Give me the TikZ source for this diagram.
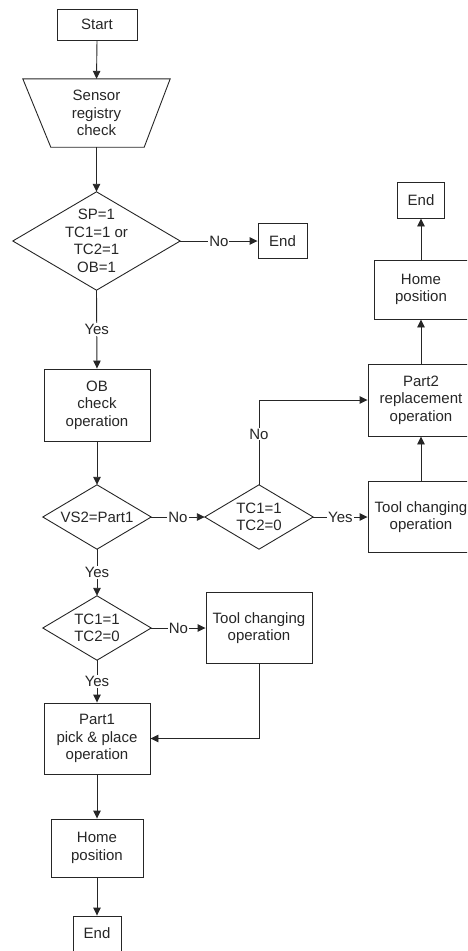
\documentclass[tikz,border=0pt]{standalone}
\usepackage{fontspec}
\setmainfont{Liberation Sans}
\usetikzlibrary{arrows.meta}
\begin{document}
\begin{tikzpicture}[x=1pt,y=-1pt,
  font=\fontsize{15}{17.5}\selectfont,
  every node/.style={text=black!85},
  ln/.style={draw=black!85, line width=0.9pt},
  arr/.style={ln, -{Triangle[length=8pt,width=7.5pt]}},
  proc/.style={draw=black!85, line width=0.9pt, rectangle, inner sep=0pt, align=center},
  dec/.style={rectangle, inner sep=0pt, align=center},
  lbl/.style={fill=white, inner sep=1pt}]
\useasboundingbox (0,0) rectangle (467,951);
\clip (0,0) rectangle (467,951);

% left column
\node[proc, minimum width=80pt, minimum height=31pt] (start) at (97,24.5) {Start};
\node[dec, minimum width=147pt, minimum height=68pt] (sensor) at (96.5,113) {Sensor\\registry\\check};
\draw[ln] (sensor.north west) -- (sensor.north east) -- ([xshift=-26pt]sensor.south east) -- ([xshift=28pt]sensor.south west) -- cycle;
\node[dec, minimum width=167pt, minimum height=98pt] (d1) at (96.5,241) {SP=1\\TC1=1 or\\TC2=1\\OB=1};
\draw[ln] (d1.north) -- (d1.east) -- (d1.south) -- (d1.west) -- cycle;
\node[proc, minimum width=49pt, minimum height=35pt] (end1) at (282.5,241) {End};
\node[proc, minimum width=106pt, minimum height=72pt] (ob) at (97,405) {OB\\check\\operation};
\node[dec, minimum width=108pt, minimum height=64pt] (vs2) at (97,517) {VS2=Part1};
\draw[ln] (vs2.north) -- (vs2.east) -- (vs2.south) -- (vs2.west) -- cycle;
\node[dec, minimum width=108pt, minimum height=64pt] (d2) at (259,517) {TC1=1\\TC2=0};
\draw[ln] (d2.north) -- (d2.east) -- (d2.south) -- (d2.west) -- cycle;
\node[dec, minimum width=108pt, minimum height=64pt] (d3) at (97,628) {TC1=1\\TC2=0};
\draw[ln] (d3.north) -- (d3.east) -- (d3.south) -- (d3.west) -- cycle;
\node[proc, minimum width=106pt, minimum height=71pt] (toolL) at (259,628) {Tool changing\\operation};
\node[proc, minimum width=106pt, minimum height=71pt] (part1) at (97,738.5) {Part1\\pick \& place\\operation};
\node[proc, minimum width=92pt, minimum height=58pt] (home1) at (97,848) {Home\\position};
\node[proc, minimum width=48pt, minimum height=35pt] (end3) at (97,933.5) {End};

% right column
\node[proc, minimum width=106pt, minimum height=71pt] (toolR) at (421,517) {Tool changing\\operation};
\node[proc, minimum width=106pt, minimum height=72pt] (part2) at (421,400) {Part2\\replacement\\operation};
\node[proc, minimum width=94pt, minimum height=59pt] (home2) at (421,289.5) {Home\\position};
\node[proc, minimum width=47pt, minimum height=36pt] (end2) at (421,200) {End};

% connectors
\draw[arr] (start.south) -- (sensor.north);
\draw[arr] (sensor.south) -- (d1.north);
\draw[arr] (d1.east) -- node[lbl]{No} (end1.west);
\draw[arr] (d1.south) -- node[lbl]{Yes} (ob.north);
\draw[arr] (ob.south) -- (vs2.north);
\draw[arr] (vs2.east) -- node[lbl]{No} (d2.west);
\draw[arr] (d2.east) -- node[lbl]{Yes} (toolR.west);
\draw[arr] (d2.north) |- node[lbl, pos=0.3]{No} (part2.west);
\draw[arr] (toolR.north) -- (part2.south);
\draw[arr] (part2.north) -- (home2.south);
\draw[arr] (home2.north) -- (end2.south);
\draw[arr] (vs2.south) -- node[lbl]{Yes} (d3.north);
\draw[arr] (d3.east) -- node[lbl]{No} (toolL.west);
\draw[arr] (d3.south) -- node[lbl]{Yes} (part1.north);
\draw[arr] (toolL.south) |- (part1.east);
\draw[arr] (part1.south) -- (home1.north);
\draw[arr] (home1.south) -- (end3.north);
\end{tikzpicture}
\end{document}
